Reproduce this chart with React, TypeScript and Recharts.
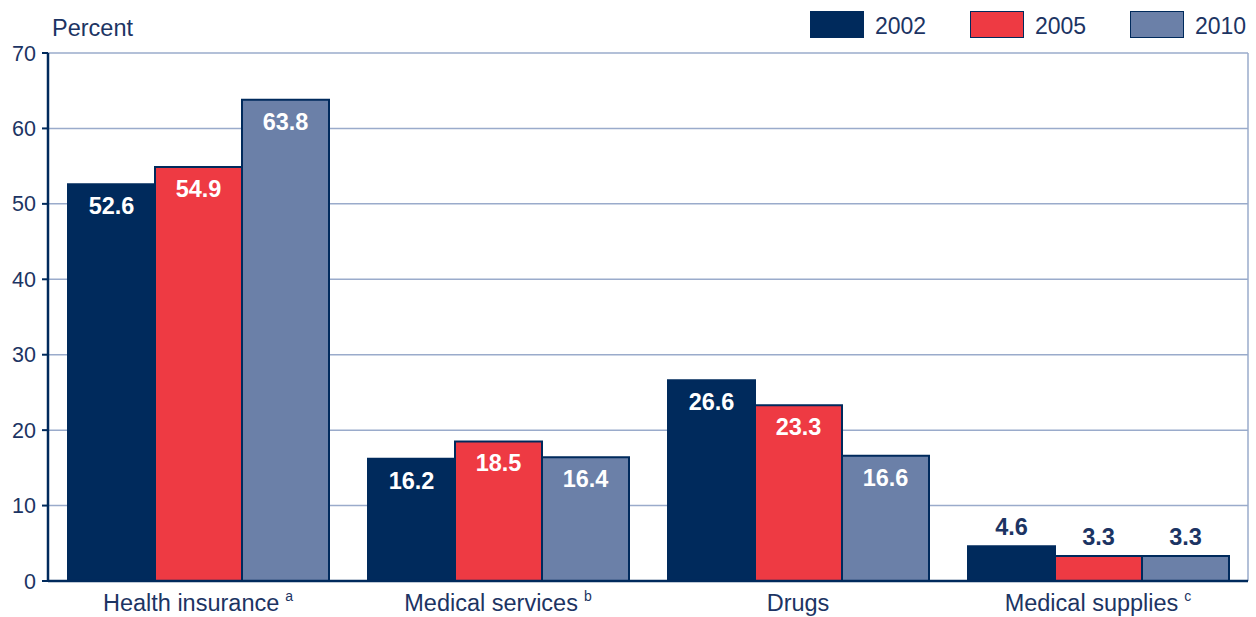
// @ts-nocheck
import React from 'react';
import { BarChart, Bar, XAxis, YAxis, CartesianGrid, LabelList } from 'recharts';

const categories = ['Health insurance', 'Medical services', 'Drugs', 'Medical supplies'];
const footnotes = ['a', 'b', '', 'c'];
const values2002 = [52.6, 16.2, 26.6, 4.6];
const values2005 = [54.9, 18.5, 23.3, 3.3];
const values2010 = [63.8, 16.4, 16.6, 3.3];
const yTicks = [0, 10, 20, 30, 40, 50, 60, 70];
const seriesYears = ['2002', '2005', '2010'];

const NAVY = '#002a5c';
const RED = '#ee3a43';
const SLATE = '#6b80a8';
const TEXT = '#1c3463';
const FONT = '"Liberation Sans", Arial, sans-serif';

const data = categories.map((c, i) => ({
  name: c,
  y2002: values2002[i],
  y2005: values2005[i],
  y2010: values2010[i],
}));

const colors = { y2002: NAVY, y2005: RED, y2010: SLATE };

const CategoryTick = ({ x, y, payload, index }: any) => {
  const note = footnotes[index] || '';
  return (
    <text x={x} y={y + 22} textAnchor="middle" fill={TEXT} fontSize={23.5} fontFamily={FONT}>
      {payload.value}
      {note ? (
        <tspan fontSize={14} dy={-10} dx={6}>{note}</tspan>
      ) : null}
    </text>
  );
};

const BarValue = (props: any) => {
  const { x, y, width, value } = props;
  const small = value < 10;
  return (
    <text
      x={x + width / 2}
      y={small ? y - 11 : y + 30}
      textAnchor="middle"
      fill={small ? TEXT : '#ffffff'}
      fontSize={23.5}
      fontWeight="bold"
      fontFamily={FONT}
    >
      {value.toFixed(1)}
    </text>
  );
};

// legend drawn as plain html so it does not push the plot down
const legendLeft = [810, 970, 1130];
const LegendBox = () => (
  <>
    {seriesYears.map((yr, i) => (
      <div key={yr} style={{ position: 'absolute', left: legendLeft[i], top: 9, display: 'flex', alignItems: 'center', fontFamily: FONT, fontSize: 23, color: TEXT }}>
        <div
          style={{
            width: 54,
            height: 27,
            background: [NAVY, RED, SLATE][i],
            border: `1px solid ${NAVY}`,
            boxSizing: 'border-box',
            marginRight: 11,
          }}
        />
        <span style={{ lineHeight: '27px', marginTop: 4 }}>{yr}</span>
      </div>
    ))}
  </>
);

const App = () => {
  return (
    <div style={{ position: 'absolute', left: 0, top: 0, width: 1256, height: 617, background: '#fff' }}>
      <div style={{ position: 'absolute', left: 52, top: 15, fontFamily: FONT, fontSize: 23.5, color: TEXT }}>Percent</div>
      <LegendBox />
      <BarChart
        width={1256}
        height={617}
        data={data}
        margin={{ top: 53, right: 8, bottom: 0, left: 0 }}
        barGap={0}
        barCategoryGap={20}
      >
        <CartesianGrid horizontal vertical verticalPoints={[1248]} stroke="#9aabcb" strokeWidth={1.5} />
        <XAxis
          dataKey="name"
          tick={<CategoryTick />}
          tickLine={false}
          axisLine={{ stroke: NAVY, strokeWidth: 2.5 }}
          height={36}
          interval={0}
        />
        <YAxis
          domain={[0, 70]}
          ticks={yTicks}
          width={48}
          tick={{ fill: TEXT, fontSize: 21.5, fontFamily: FONT }}
          tickLine={{ stroke: NAVY, strokeWidth: 2 }}
          tickSize={6}
          tickMargin={6}
          axisLine={{ stroke: NAVY, strokeWidth: 2.5 }}
        />
        {['y2002', 'y2005', 'y2010'].map((k) => (
          <Bar key={k} dataKey={k} fill={colors[k]} stroke={NAVY} strokeWidth={2} isAnimationActive={false}>
            <LabelList dataKey={k} content={<BarValue />} />
          </Bar>
        ))}
      </BarChart>
    </div>
  );
};

export default App;
